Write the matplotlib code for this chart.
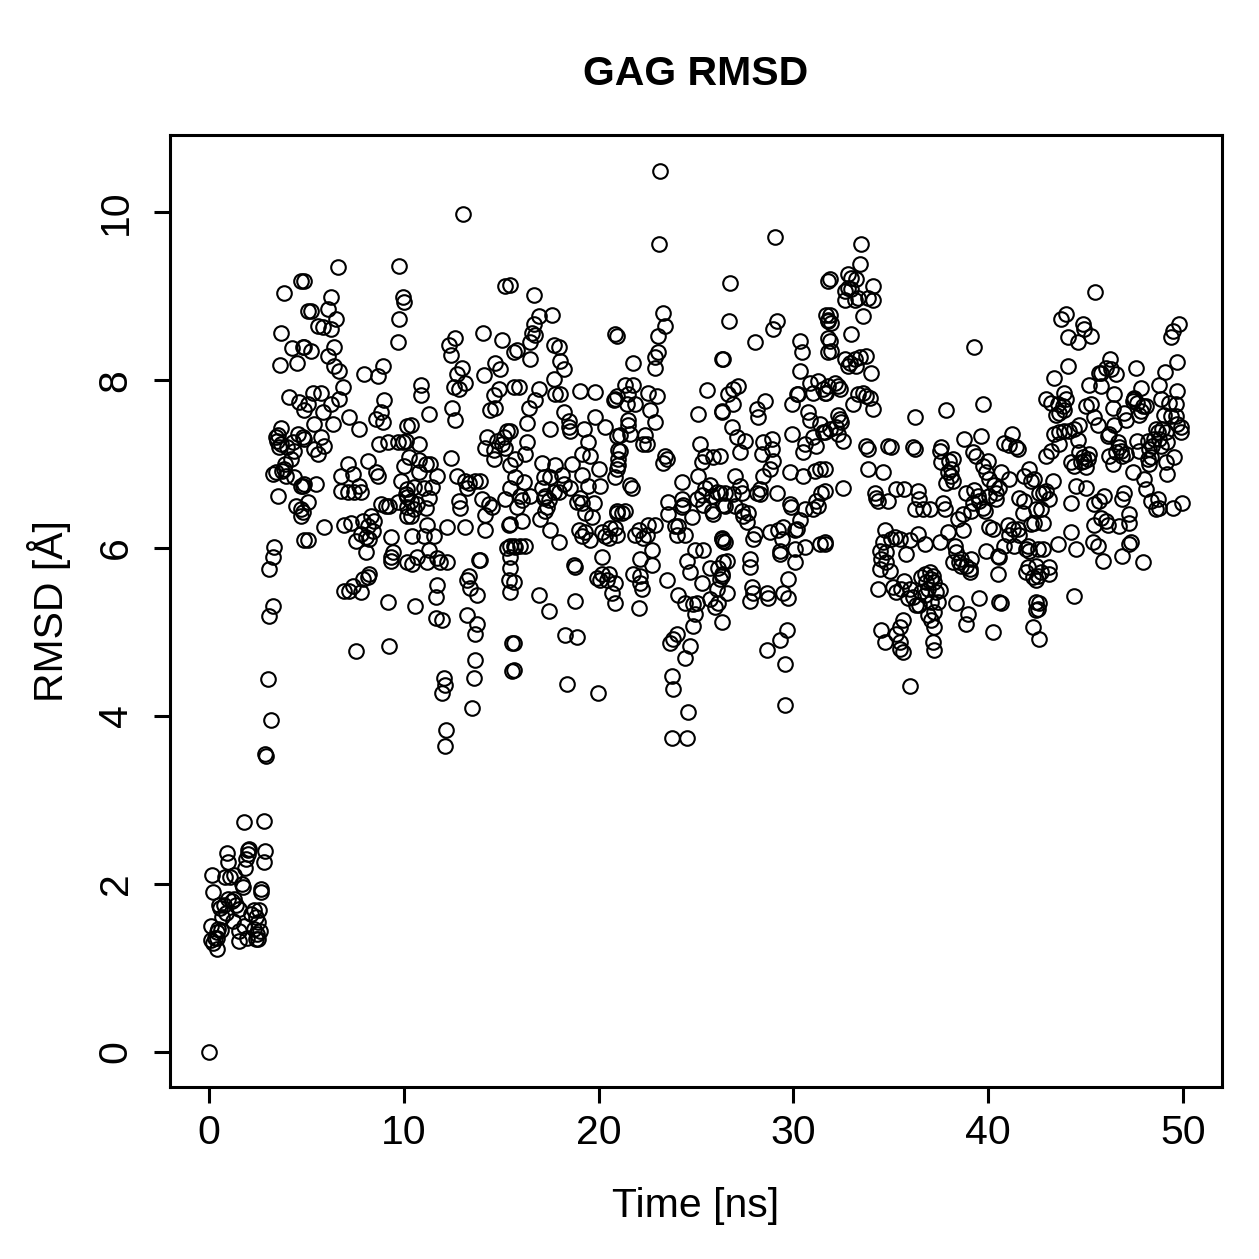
import matplotlib.pyplot as plt

# RMSD trajectory points (time in ns, RMSD in Angstrom) per time window
seg_00_03 = [
    (0.0, 0.0), (0.15, 2.1), (0.2, 1.9), (0.1, 1.5), (0.45, 1.46), (0.4, 1.43), (0.1, 1.33),
    (0.2, 1.3), (0.3, 1.35), (0.4, 1.35), (0.4, 1.22), (0.55, 1.71), (0.5, 1.75), (0.67, 1.6),
    (0.92, 2.37), (1.0, 2.26), (0.8, 2.08), (1.1, 2.08), (1.3, 2.1), (1.0, 1.82), (1.3, 1.82),
    (1.2, 1.8), (1.23, 1.56), (1.53, 1.44), (1.53, 1.32), (1.55, 1.7), (1.74, 1.96), (1.8, 2.74),
    (1.85, 2.19), (2.0, 2.4), (2.05, 2.42), (2.0, 2.35), (2.15, 1.64), (2.3, 1.69), (2.55, 1.69),
    (2.3, 1.46), (2.45, 1.4), (2.4, 1.34), (2.5, 1.34), (2.6, 1.44), (2.65, 1.94), (2.65, 1.9),
    (2.8, 2.26), (2.87, 2.39), (2.8, 2.75), (2.9, 3.55), (2.92, 3.52), (3.02, 4.44), (3.18, 3.95),
    (0.75, 1.75), (0.85, 1.65), (1.4, 1.75), (1.7, 2.0), (1.9, 2.3), (2.4, 1.6), (2.5, 1.55),
    (0.6, 1.45), (1.8, 1.5), (1.95, 1.35),
]
seg_03_05 = [
    (4.71, 9.18), (3.84, 9.04), (5.07, 8.82), (3.69, 8.56), (4.25, 8.38), (4.82, 8.39), (3.64, 8.18),
    (4.51, 8.2), (4.1, 7.8), (4.61, 7.74), (4.87, 7.65), (3.69, 7.43), (3.43, 7.32), (3.69, 7.24),
    (4.3, 7.26), (4.56, 7.36), (4.82, 7.32), (4.35, 7.15), (4.2, 7.06), (3.43, 6.9), (3.84, 6.94),
    (3.94, 6.86), (4.35, 6.85), (4.82, 6.74), (3.53, 6.62), (4.46, 6.5), (4.71, 6.46), (4.71, 6.38),
    (4.87, 6.1), (3.33, 6.01), (3.28, 5.89), (3.07, 5.75), (3.28, 5.31), (3.07, 5.19),
    (3.5, 7.28), (3.6, 7.2), (3.75, 6.92), (3.9, 7.0), (4.0, 7.2), (3.3, 6.88), (3.55, 7.35),
]
seg_05_10 = [
    (4.87, 9.18), (6.61, 9.35), (9.73, 9.36), (6.25, 8.99), (5.23, 8.82), (6.1, 8.85), (5.58, 8.64),
    (5.84, 8.63), (6.25, 8.61), (6.51, 8.73), (9.94, 8.99), (9.99, 8.93), (9.73, 8.73), (9.68, 8.45),
    (4.87, 8.39), (5.23, 8.35), (6.1, 8.29), (6.4, 8.39), (6.4, 8.17), (6.66, 8.11), (7.94, 8.07),
    (8.66, 8.05), (8.91, 8.17), (5.33, 7.85), (5.07, 7.71), (5.74, 7.85), (6.86, 7.92), (6.25, 7.71),
    (6.66, 7.77), (5.84, 7.62), (7.17, 7.56), (7.68, 7.42), (8.97, 7.76), (8.81, 7.62), (8.56, 7.54),
    (8.91, 7.5), (5.38, 7.48), (6.35, 7.48), (4.87, 7.3), (5.74, 7.32), (5.89, 7.21), (5.38, 7.18),
    (5.58, 7.12), (8.71, 7.24), (9.17, 7.26), (9.68, 7.26), (9.94, 7.26), (10.19, 7.45), (7.12, 7.0),
    (8.15, 7.04), (6.76, 6.86), (7.38, 6.88), (7.68, 6.74), (8.56, 6.9), (8.66, 6.86), (9.99, 6.98),
    (6.76, 6.68), (7.12, 6.67), (7.43, 6.67), (7.79, 6.67), (4.71, 6.74), (4.87, 6.76), (5.48, 6.76),
    (9.84, 6.8), (10.19, 6.7), (5.07, 6.55), (4.82, 6.43), (8.81, 6.52), (9.07, 6.5), (9.22, 6.5),
    (9.68, 6.55), (10.19, 6.61), (8.3, 6.38), (8.45, 6.32), (7.89, 6.32), (8.15, 6.26), (8.4, 6.2),
    (7.79, 6.17), (7.53, 6.08), (8.04, 6.13), (8.2, 6.11), (6.92, 6.27), (7.27, 6.3), (5.89, 6.25),
    (5.07, 6.1), (9.32, 6.13), (10.19, 6.49), (10.19, 6.38), (8.04, 5.95), (9.32, 5.89), (9.43, 5.95),
    (9.32, 5.85), (10.19, 5.83), (8.2, 5.69), (8.15, 5.65), (7.89, 5.63), (6.92, 5.49), (7.17, 5.49),
    (7.38, 5.55), (7.79, 5.48), (9.17, 5.36), (9.22, 4.83), (7.53, 4.77),
]
seg_10_16 = [
    (13.03, 9.98), (15.21, 9.12), (12.65, 8.5), (12.31, 8.42), (12.4, 8.3), (14.07, 8.56), (15.05, 8.48),
    (15.64, 8.33), (12.99, 8.15), (12.74, 8.07), (12.57, 7.92), (12.82, 7.9), (13.16, 7.96), (14.14, 8.06),
    (14.7, 8.21), (14.96, 8.13), (10.86, 7.94), (10.86, 7.82), (14.87, 7.9), (14.62, 7.82), (14.45, 7.65),
    (14.7, 7.67), (15.64, 7.92), (12.48, 7.67), (12.65, 7.52), (11.29, 7.6), (10.35, 7.46), (10.77, 7.24),
    (10.09, 7.27), (12.4, 7.07), (15.3, 7.4), (15.13, 7.32), (15.05, 7.24), (14.79, 7.27), (14.28, 7.32),
    (14.19, 7.19), (14.62, 7.17), (14.62, 7.06), (15.21, 7.19), (10.26, 7.08), (10.77, 7.05), (11.12, 7.0),
    (11.37, 7.0), (11.71, 6.86), (10.77, 6.9), (10.52, 6.73), (11.03, 6.71), (11.46, 6.73), (11.29, 6.6),
    (11.12, 6.48), (12.74, 6.86), (13.16, 6.8), (13.33, 6.77), (13.68, 6.8), (13.93, 6.8), (13.25, 6.71),
    (10.09, 6.64), (10.35, 6.56), (10.52, 6.46), (10.35, 6.38), (10.69, 6.52), (12.82, 6.56), (12.91, 6.48),
    (14.02, 6.58), (14.36, 6.52), (14.53, 6.49), (14.19, 6.39), (15.21, 6.58), (11.2, 6.27), (11.55, 6.14),
    (11.03, 6.14), (10.43, 6.14), (12.23, 6.25), (13.16, 6.25), (14.19, 6.21), (15.39, 6.27), (15.3, 6.0),
    (15.64, 6.02), (11.29, 5.98), (10.69, 5.89), (10.43, 5.81), (11.2, 5.83), (11.71, 5.88), (11.88, 5.83),
    (12.23, 5.83), (13.85, 5.86), (13.93, 5.86), (13.33, 5.67), (13.25, 5.62), (13.42, 5.52), (13.76, 5.44),
    (11.71, 5.56), (11.63, 5.42), (15.39, 5.62), (15.47, 5.48), (10.6, 5.31), (11.63, 5.17), (11.97, 5.14),
    (13.25, 5.2), (13.76, 5.1), (13.68, 4.98), (15.56, 4.87), (15.56, 4.54), (13.68, 4.67), (13.59, 4.45),
    (12.06, 4.45), (12.11, 4.37), (11.97, 4.27), (13.51, 4.1), (12.18, 3.83), (12.14, 3.64),
]
seg_16_21 = [
    (15.47, 9.13), (16.67, 9.01), (16.92, 8.76), (17.61, 8.77), (16.67, 8.67), (16.58, 8.56), (16.75, 8.54),
    (16.49, 8.46), (15.81, 8.36), (16.49, 8.25), (17.69, 8.42), (17.95, 8.4), (18.03, 8.23), (18.21, 8.13),
    (20.85, 8.55), (17.69, 8.01), (15.9, 7.92), (16.92, 7.9), (16.75, 7.76), (16.41, 7.67), (17.78, 7.83),
    (18.03, 7.83), (19.06, 7.87), (19.83, 7.86), (20.77, 7.76), (20.94, 7.81), (18.21, 7.62), (18.46, 7.51),
    (18.55, 7.39), (18.46, 7.44), (16.32, 7.49), (17.52, 7.42), (19.23, 7.42), (19.83, 7.56), (20.34, 7.44),
    (15.47, 7.39), (16.32, 7.26), (16.24, 7.12), (15.73, 7.06), (15.47, 6.99), (19.48, 7.26), (19.14, 7.12),
    (19.57, 7.1), (20.94, 7.33), (21.02, 7.17), (21.02, 7.06), (20.94, 6.94), (17.09, 7.01), (17.78, 6.99),
    (17.18, 6.85), (17.52, 6.85), (18.63, 7.0), (19.14, 6.87), (20.0, 6.94), (18.12, 6.87), (15.73, 6.85),
    (16.15, 6.79), (15.47, 6.71), (18.21, 6.76), (18.55, 6.71), (17.95, 6.67), (17.69, 6.67), (19.48, 6.74),
    (20.08, 6.74), (17.09, 6.71), (17.26, 6.62), (17.44, 6.57), (17.18, 6.6), (15.98, 6.62), (16.07, 6.57),
    (16.49, 6.62), (15.81, 6.49), (18.89, 6.55), (19.06, 6.6), (19.31, 6.42), (19.74, 6.54), (19.66, 6.37),
    (19.14, 6.54), (15.47, 6.29), (16.07, 6.32), (17.0, 6.35), (17.52, 6.21), (17.95, 6.07), (17.35, 6.49),
    (17.26, 6.44), (18.97, 6.21), (19.31, 6.19), (19.57, 6.1), (19.14, 6.14), (20.17, 6.19), (20.34, 6.14),
    (20.51, 6.12), (20.6, 6.24), (20.94, 6.42), (15.47, 6.02), (15.73, 6.01), (15.98, 6.02), (16.24, 6.02),
    (15.47, 5.89), (18.72, 5.8), (18.8, 5.77), (20.17, 5.89), (20.17, 5.69), (20.51, 5.69), (19.91, 5.64),
    (20.08, 5.62), (20.42, 5.62), (20.68, 5.46), (15.47, 5.76), (15.64, 5.6), (16.92, 5.44), (17.44, 5.25),
    (18.8, 5.37), (18.29, 4.96), (18.89, 4.94), (15.64, 4.87), (15.64, 4.55), (18.38, 4.38), (19.96, 4.27),
]
seg_21_26 = [
    (23.15, 10.49), (23.1, 9.62), (23.33, 8.8), (23.41, 8.65), (23.07, 8.53), (23.07, 8.33), (22.9, 8.28),
    (22.9, 8.15), (20.94, 8.53), (21.79, 8.2), (26.31, 8.25), (25.55, 7.88), (21.36, 7.94), (21.79, 7.94),
    (21.53, 7.83), (20.85, 7.78), (21.45, 7.72), (21.87, 7.72), (22.56, 7.85), (22.98, 7.81), (22.64, 7.65),
    (25.12, 7.6), (26.31, 7.63), (21.53, 7.53), (21.62, 7.36), (21.53, 7.47), (21.11, 7.35), (22.9, 7.5),
    (22.39, 7.35), (22.47, 7.24), (22.3, 7.24), (25.21, 7.24), (25.46, 7.1), (25.89, 7.09), (25.29, 7.03),
    (25.12, 6.86), (23.41, 7.1), (23.5, 7.06), (23.33, 7.01), (21.11, 7.15), (21.02, 6.99), (20.85, 6.85),
    (21.62, 6.75), (21.7, 6.71), (24.27, 6.79), (25.46, 6.71), (25.72, 6.75), (26.06, 6.67), (25.8, 6.62),
    (25.29, 6.63), (25.04, 6.58), (25.38, 6.51), (25.8, 6.44), (25.89, 6.4), (26.4, 6.51), (23.58, 6.55),
    (24.27, 6.58), (24.35, 6.51), (23.58, 6.4), (24.27, 6.49), (24.1, 6.26), (23.92, 6.26), (24.01, 6.15),
    (24.44, 6.15), (24.78, 6.37), (20.94, 6.44), (21.19, 6.42), (21.36, 6.44), (20.85, 6.24), (20.94, 6.15),
    (22.05, 6.21), (22.56, 6.28), (22.47, 6.15), (22.9, 6.28), (21.87, 6.15), (22.3, 6.12), (22.73, 5.98),
    (22.13, 5.87), (22.73, 5.8), (26.31, 6.12), (26.4, 6.08), (24.95, 5.98), (25.38, 5.98), (24.52, 5.85),
    (24.69, 5.71), (26.4, 5.83), (26.14, 5.76), (25.72, 5.76), (26.31, 5.67), (26.06, 5.51), (26.14, 5.35),
    (25.72, 5.39), (25.97, 5.3), (25.29, 5.58), (21.79, 5.69), (22.13, 5.67), (20.85, 5.58), (20.85, 5.35),
    (23.5, 5.62), (22.13, 5.58), (22.22, 5.51), (22.05, 5.28), (24.1, 5.44), (24.44, 5.35), (24.86, 5.33),
    (25.04, 5.35), (24.95, 5.21), (24.86, 5.07), (24.01, 4.98), (23.84, 4.92), (23.67, 4.87), (24.69, 4.83),
    (24.44, 4.69), (23.75, 4.48), (23.84, 4.32), (24.61, 4.05), (23.75, 3.74), (24.56, 3.74),
]
seg_26_32 = [
    (29.05, 9.7), (26.74, 9.16), (31.78, 9.18), (26.7, 8.71), (29.14, 8.71), (28.97, 8.61), (28.02, 8.45),
    (30.33, 8.47), (30.42, 8.33), (31.69, 8.78), (31.78, 8.7), (31.78, 8.5), (31.78, 8.33), (26.4, 8.25),
    (30.33, 8.11), (30.84, 7.97), (31.27, 7.99), (31.01, 7.85), (31.52, 7.89), (31.69, 7.85), (27.17, 7.93),
    (26.91, 7.89), (26.66, 7.83), (26.91, 7.71), (26.32, 7.62), (28.11, 7.66), (28.2, 7.56), (28.54, 7.75),
    (30.16, 7.83), (29.91, 7.71), (30.25, 7.83), (30.76, 7.62), (30.84, 7.52), (31.35, 7.48), (31.52, 7.38),
    (31.18, 7.22), (31.01, 7.32), (30.59, 7.24), (30.5, 7.14), (29.91, 7.36), (26.83, 7.44), (27.08, 7.32),
    (27.51, 7.28), (27.25, 7.14), (28.45, 7.26), (28.88, 7.3), (28.37, 7.12), (28.88, 7.18), (28.97, 7.04),
    (28.8, 6.94), (28.45, 6.86), (26.23, 7.1), (29.82, 6.9), (30.5, 6.86), (31.1, 6.92), (31.35, 6.94),
    (31.44, 6.66), (31.18, 6.56), (31.27, 6.5), (31.01, 6.46), (30.59, 6.46), (30.33, 6.33), (30.16, 6.23),
    (27.0, 6.86), (27.25, 6.74), (27.34, 6.66), (26.91, 6.64), (26.49, 6.66), (28.28, 6.7), (28.28, 6.64),
    (28.11, 6.66), (29.14, 6.66), (26.23, 6.66), (27.0, 6.5), (26.49, 6.5), (27.34, 6.44), (27.42, 6.38),
    (27.6, 6.31), (27.68, 6.42), (29.82, 6.52), (29.86, 6.49), (26.32, 6.11), (26.49, 6.07), (28.02, 6.17),
    (27.94, 6.11), (28.8, 6.19), (29.22, 6.21), (29.48, 6.25), (29.39, 6.11), (29.31, 5.97), (29.31, 5.93),
    (30.08, 6.21), (30.08, 5.99), (30.59, 6.01), (31.35, 6.05), (31.61, 6.05), (26.57, 5.85), (26.32, 5.69),
    (26.23, 5.63), (27.77, 5.87), (27.77, 5.77), (30.08, 5.83), (29.74, 5.63), (26.57, 5.46), (26.32, 5.12),
    (27.85, 5.53), (27.94, 5.46), (28.62, 5.46), (28.71, 5.4), (29.48, 5.46), (29.74, 5.4), (27.77, 5.37),
    (29.65, 5.02), (29.31, 4.9), (28.62, 4.78), (29.57, 4.62), (29.57, 4.13),
]
seg_32_37 = [
    (33.49, 9.62), (33.4, 9.38), (31.86, 9.2), (32.8, 9.26), (32.97, 9.22), (33.23, 9.2), (32.8, 9.1),
    (32.63, 9.06), (32.97, 9.08), (33.15, 8.96), (33.32, 8.98), (33.83, 8.98), (34.08, 9.12), (34.08, 8.96),
    (32.63, 8.96), (31.86, 8.78), (31.95, 8.68), (31.78, 8.72), (33.57, 8.76), (32.97, 8.55), (31.86, 8.47),
    (31.95, 8.35), (32.63, 8.25), (32.89, 8.21), (33.15, 8.25), (33.4, 8.27), (33.74, 8.29), (33.23, 8.17),
    (32.8, 8.17), (34.0, 8.09), (31.78, 7.93), (32.12, 7.97), (32.29, 7.93), (32.38, 7.89), (31.61, 7.85),
    (33.32, 7.83), (33.57, 7.85), (33.74, 7.81), (33.91, 7.79), (33.06, 7.71), (34.08, 7.66), (36.22, 7.56),
    (32.29, 7.58), (32.38, 7.54), (32.46, 7.5), (32.2, 7.44), (31.86, 7.42), (32.29, 7.36), (32.55, 7.28),
    (31.61, 7.38), (33.74, 7.22), (33.83, 7.18), (34.85, 7.22), (35.02, 7.2), (36.13, 7.2), (36.22, 7.18),
    (33.83, 6.94), (34.6, 6.9), (31.61, 6.94), (31.61, 6.68), (32.55, 6.72), (34.17, 6.66), (34.25, 6.6),
    (34.34, 6.56), (34.85, 6.56), (35.28, 6.7), (35.7, 6.7), (36.39, 6.68), (36.47, 6.58), (36.22, 6.46),
    (36.64, 6.46), (31.61, 6.07), (34.68, 6.21), (35.02, 6.11), (35.19, 6.13), (35.45, 6.11), (35.96, 6.09),
    (36.39, 6.17), (36.73, 6.05), (34.6, 6.07), (34.42, 5.97), (34.77, 5.95), (34.51, 5.87), (34.77, 5.83),
    (35.79, 5.93), (34.42, 5.75), (34.94, 5.73), (34.34, 5.51), (35.11, 5.53), (35.28, 5.48), (35.53, 5.51),
    (35.7, 5.61), (35.96, 5.51), (36.56, 5.65), (36.73, 5.69), (36.81, 5.59), (36.9, 5.51), (36.56, 5.48),
    (37.07, 5.63), (36.73, 5.44), (36.13, 5.42), (35.87, 5.4), (36.3, 5.32), (37.07, 5.36), (36.9, 5.2),
    (36.47, 5.32), (34.51, 5.02), (34.68, 4.88), (35.28, 4.98), (35.45, 5.06), (35.62, 5.14), (35.45, 4.88),
    (35.45, 4.8), (35.62, 4.76), (37.15, 4.88), (35.96, 4.36),
]
seg_37_42 = [
    (39.26, 8.4), (37.84, 7.64), (39.72, 7.72), (38.78, 7.3), (39.64, 7.33), (40.83, 7.25), (41.09, 7.23),
    (41.22, 7.36), (41.43, 7.2), (41.51, 7.18), (37.58, 7.2), (37.5, 7.16), (37.58, 7.02), (38.01, 7.04),
    (38.18, 7.06), (38.1, 6.94), (37.93, 6.9), (37.84, 6.78), (38.18, 6.8), (38.1, 6.86), (39.21, 7.14),
    (39.38, 7.1), (39.98, 7.04), (39.72, 6.98), (39.89, 6.9), (40.66, 6.9), (41.09, 6.82), (40.06, 6.82),
    (40.32, 6.75), (40.57, 6.71), (40.4, 6.66), (40.06, 6.62), (40.4, 6.58), (41.86, 6.86), (42.11, 6.94),
    (42.2, 6.8), (41.6, 6.6), (41.86, 6.56), (41.77, 6.42), (42.2, 6.29), (42.45, 6.46), (42.6, 6.66),
    (38.87, 6.66), (39.29, 6.69), (39.46, 6.62), (39.21, 6.54), (39.55, 6.56), (39.81, 6.44), (39.72, 6.48),
    (39.12, 6.44), (37.67, 6.54), (37.76, 6.46), (36.99, 6.46), (38.69, 6.4), (38.44, 6.35), (38.69, 6.21),
    (37.93, 6.19), (37.5, 6.07), (40.06, 6.25), (40.23, 6.23), (41.0, 6.27), (41.26, 6.23), (41.09, 6.15),
    (41.51, 6.23), (41.6, 6.15), (41.34, 6.03), (42.03, 6.03), (41.94, 5.99), (42.11, 5.97), (42.54, 5.99),
    (40.83, 6.03), (40.49, 5.91), (40.57, 5.89), (39.89, 5.97), (38.27, 6.03), (38.35, 5.95), (38.61, 5.87),
    (38.52, 5.83), (38.61, 5.79), (38.87, 5.79), (39.12, 5.87), (38.18, 5.83), (39.04, 5.75), (39.04, 5.71),
    (40.49, 5.69), (42.03, 5.77), (41.94, 5.71), (42.28, 5.65), (42.45, 5.79), (42.45, 5.62), (36.99, 5.71),
    (37.16, 5.67), (37.24, 5.6), (37.5, 5.5), (37.33, 5.48), (37.41, 5.36), (37.24, 5.24), (37.08, 5.14),
    (37.24, 5.06), (38.35, 5.34), (39.55, 5.4), (40.57, 5.36), (40.66, 5.34), (38.95, 5.22), (38.87, 5.1),
    (40.23, 5.0), (42.45, 5.36), (42.45, 5.26), (42.28, 5.06), (42.6, 4.92), (37.24, 4.78),
]
seg_42_50 = [
    (45.49, 9.05), (43.73, 8.73), (43.99, 8.79), (44.07, 8.51), (44.59, 8.46), (44.85, 8.67), (44.93, 8.61),
    (45.27, 8.53), (49.8, 8.67), (49.46, 8.59), (49.37, 8.51), (44.07, 8.17), (43.39, 8.02), (46.26, 8.25),
    (46.04, 8.15), (45.78, 8.09), (46.3, 8.13), (46.55, 8.07), (45.7, 8.09), (47.58, 8.15), (49.71, 8.22),
    (49.08, 8.1), (45.19, 7.94), (45.78, 7.93), (47.83, 7.91), (47.49, 7.79), (47.41, 7.75), (48.77, 7.94),
    (49.71, 7.87), (43.9, 7.85), (43.99, 7.77), (42.97, 7.77), (43.22, 7.73), (43.56, 7.71), (43.82, 7.69),
    (43.65, 7.61), (43.48, 7.59), (43.9, 7.65), (46.47, 7.83), (45.02, 7.69), (45.27, 7.71), (46.38, 7.67),
    (45.44, 7.56), (45.61, 7.46), (47.49, 7.77), (47.66, 7.73), (47.92, 7.69), (48.09, 7.69), (47.75, 7.59),
    (47.83, 7.63), (48.86, 7.77), (49.29, 7.73), (49.63, 7.71), (49.03, 7.59), (49.37, 7.57), (49.63, 7.57),
    (49.71, 7.48), (49.88, 7.38), (49.88, 7.44), (46.98, 7.61), (47.07, 7.52), (46.47, 7.46), (46.21, 7.36),
    (46.13, 7.34), (43.39, 7.36), (43.65, 7.38), (43.9, 7.4), (44.16, 7.4), (44.42, 7.42), (44.67, 7.46),
    (44.59, 7.29), (43.65, 7.24), (43.22, 7.16), (42.97, 7.1), (46.64, 7.26), (46.72, 7.2), (46.81, 7.16),
    (46.55, 7.14), (46.21, 7.1), (46.38, 7.0), (47.07, 7.12), (46.89, 7.1), (47.66, 7.28), (47.75, 7.16),
    (48.18, 7.28), (48.26, 7.18), (48.35, 7.08), (48.18, 7.06), (48.26, 7.0), (48.43, 7.22), (48.69, 7.38),
    (48.77, 7.3), (48.86, 7.22), (49.11, 7.38), (49.2, 7.26), (48.94, 7.42), (48.6, 7.42), (48.52, 7.3),
    (49.54, 7.08), (49.11, 7.02), (49.2, 6.88), (44.67, 7.14), (44.85, 7.08), (44.93, 7.04), (44.76, 7.02),
    (45.1, 7.06), (45.19, 7.12), (45.02, 6.96), (44.24, 7.02), (44.42, 6.98), (47.41, 6.9), (48.0, 6.82),
    (48.09, 6.7), (44.5, 6.74), (45.02, 6.72), (43.31, 6.8), (42.97, 6.68), (43.14, 6.58), (42.79, 6.66),
    (42.37, 6.82), (44.24, 6.54), (45.44, 6.52), (45.7, 6.56), (45.96, 6.62), (45.78, 6.36), (46.04, 6.32),
    (46.13, 6.28), (45.44, 6.28), (46.89, 6.58), (46.98, 6.66), (47.24, 6.4), (47.24, 6.3), (46.72, 6.26),
    (48.35, 6.56), (48.69, 6.58), (48.6, 6.46), (48.77, 6.48), (49.46, 6.48), (49.97, 6.54), (42.71, 6.46),
    (42.79, 6.3), (42.37, 6.3), (44.24, 6.19), (43.56, 6.05), (44.5, 5.99), (42.79, 5.99), (45.36, 6.07),
    (45.61, 6.03), (45.87, 5.85), (46.89, 5.91), (47.24, 6.05), (47.32, 6.07), (47.92, 5.83), (42.71, 5.71),
    (43.14, 5.77), (43.14, 5.69), (42.54, 5.67), (44.42, 5.43), (42.62, 5.35), (42.54, 5.27),
]

segments = [seg_00_03, seg_03_05, seg_05_10, seg_10_16, seg_16_21,
            seg_21_26, seg_26_32, seg_32_37, seg_37_42, seg_42_50]
points = [p for seg in segments for p in seg]
time_ns = [p[0] for p in points]
rmsd = [p[1] for p in points]

plt.rcParams['font.family'] = ['Liberation Sans', 'DejaVu Sans']
fs = 29.5

fig = plt.figure(figsize=(12.59, 12.59), dpi=100)
ax = fig.add_axes([170 / 1259, 1 - 1087 / 1259, 1052 / 1259, 952 / 1259])

# open circles, R base-graphics style
ax.plot(time_ns, rmsd, linestyle='none', marker='o', markersize=10.5,
        markerfacecolor='none', markeredgecolor='black', markeredgewidth=1.5)

ax.set_xlim(-2, 52)
ax.set_ylim(-0.42, 10.92)
ax.set_xticks([0, 10, 20, 30, 40, 50])
ax.set_yticks([0, 2, 4, 6, 8, 10])

for side in ax.spines.values():
    side.set_linewidth(2.2)
ax.tick_params(direction='out', length=11.5, width=2.2, labelsize=fs)
ax.tick_params(axis='x', pad=8)
ax.tick_params(axis='y', pad=14)
for lbl in ax.get_yticklabels():
    lbl.set_rotation(90)
    lbl.set_va('center')

# titles and axis labels placed like R's margins
fig.text(696 / 1259, 1 - 85 / 1259, 'GAG RMSD', ha='center', va='baseline',
         fontsize=fs, fontweight='bold')
fig.text(696 / 1259, 1 - 1217 / 1259, 'Time [ns]', ha='center', va='baseline', fontsize=fs)
fig.text(63 / 1259, 1 - 611 / 1259, 'RMSD [Å]', ha='center', va='baseline', fontsize=fs,
         rotation=90, rotation_mode='anchor')

fig.savefig('out.png', dpi=100)
